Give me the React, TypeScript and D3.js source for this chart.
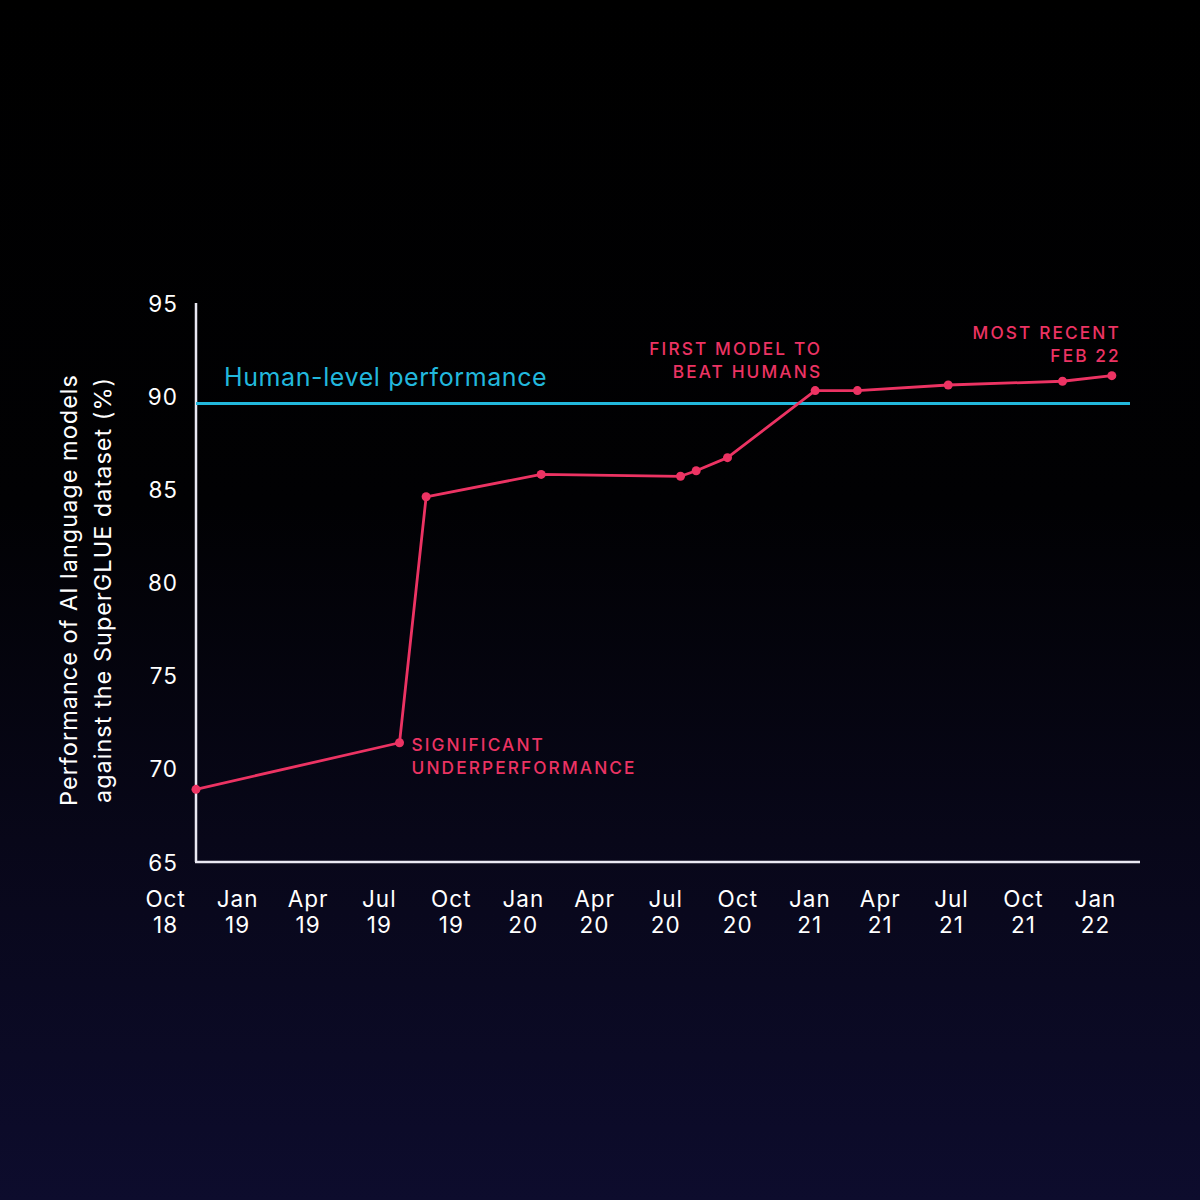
import React, { useEffect, useRef } from 'react';
import * as d3 from 'd3';

// SuperGLUE leaderboard: best score over time
const dates = [
  '2018-11-05', '2019-07-23', '2019-08-26', '2020-01-20', '2020-07-16', '2020-08-05',
  '2020-09-14', '2021-01-04', '2021-02-27', '2021-06-23', '2021-11-16', '2022-01-18'
];
const scores = [68.9, 71.4, 84.6, 85.8, 85.7, 86.0, 86.7, 90.3, 90.3, 90.6, 90.8, 91.1];
const humanLevel = 89.6;

const yTicks = [65, 70, 75, 80, 85, 90, 95];
const xTickDates = [
  '2018-10-01', '2019-01-01', '2019-04-01', '2019-07-01', '2019-10-01', '2020-01-01',
  '2020-04-01', '2020-07-01', '2020-10-01', '2021-01-01', '2021-04-01', '2021-07-01',
  '2021-10-01', '2022-01-01'
];

const PINK = '#ec3363';
const CYAN = '#22b8dd';
const AXIS = '#e9e8f2';
const FONT = 'Inter, "Noto Sans", sans-serif';

const App: React.FC = () => {
  const svgRef = useRef<SVGSVGElement>(null);

  useEffect(() => {
    if (!svgRef.current) return;
    const svg = d3.select(svgRef.current);
    svg.selectAll('*').remove();

    const parse = d3.timeParse('%Y-%m-%d');
    const data = dates.map((d, i) => ({ date: parse(d) as Date, value: scores[i] }));

    // background
    const defs = svg.append('defs');
    const grad = defs.append('linearGradient')
      .attr('id', 'bg')
      .attr('x1', 0).attr('y1', 0).attr('x2', 0).attr('y2', 1);
    grad.append('stop').attr('offset', '0%').attr('stop-color', '#000000');
    grad.append('stop').attr('offset', '42%').attr('stop-color', '#010103');
    grad.append('stop').attr('offset', '70%').attr('stop-color', '#080719');
    grad.append('stop').attr('offset', '100%').attr('stop-color', '#0d0c2d');
    svg.append('rect').attr('width', 1200).attr('height', 1200).attr('fill', 'url(#bg)');

    const x = d3.scaleTime()
      .domain([parse('2018-11-05') as Date, parse('2022-02-23') as Date])
      .range([196, 1140]);
    const y = d3.scaleLinear().domain([65, 95]).range([862, 303]);

    // axes
    svg.append('line')
      .attr('x1', x.range()[0]).attr('x2', x.range()[0])
      .attr('y1', y(95)).attr('y2', y(65))
      .attr('stroke', AXIS).attr('stroke-width', 2.5);
    svg.append('line')
      .attr('x1', x.range()[0] - 1).attr('x2', x.range()[1])
      .attr('y1', y(65)).attr('y2', y(65))
      .attr('stroke', AXIS).attr('stroke-width', 2.5);

    // y tick labels
    svg.append('g').selectAll('text')
      .data(yTicks)
      .enter()
      .append('text')
      .attr('x', 178)
      .attr('y', d => y(d) + 8.5)
      .attr('text-anchor', 'end')
      .attr('fill', '#ffffff')
      .attr('font-family', FONT)
      .attr('font-size', 22.5)
      .attr('letter-spacing', 1)
      .text(d => d);

    // x tick labels: month on one line, year below
    const fmtMonth = d3.timeFormat('%b');
    const fmtYear = d3.timeFormat('%y');
    const tickDates = xTickDates.map(d => parse(d) as Date);
    const xg = svg.append('g')
      .attr('text-anchor', 'middle')
      .attr('fill', '#ffffff')
      .attr('font-family', FONT)
      .attr('font-size', 22.5)
      .attr('letter-spacing', 1);
    xg.selectAll('text.month')
      .data(tickDates)
      .enter()
      .append('text')
      .attr('class', 'month')
      .attr('x', d => x(d) - 3)
      .attr('y', 907)
      .text(d => fmtMonth(d));
    xg.selectAll('text.year')
      .data(tickDates)
      .enter()
      .append('text')
      .attr('class', 'year')
      .attr('x', d => x(d) - 3)
      .attr('y', 933)
      .text(d => fmtYear(d));

    // y axis title
    const yt = svg.append('text')
      .attr('transform', 'translate(77,590) rotate(-90)')
      .attr('text-anchor', 'middle')
      .attr('fill', '#ffffff')
      .attr('font-family', FONT)
      .attr('font-size', 23.5)
      .attr('letter-spacing', 1.0);
    yt.append('tspan').attr('x', 0).attr('y', 0).text('Performance of AI language models');
    yt.append('tspan').attr('x', 0).attr('y', 34).text('against the SuperGLUE dataset (%)');

    // human level line
    svg.append('line')
      .attr('x1', x.range()[0]).attr('x2', 1130)
      .attr('y1', y(humanLevel)).attr('y2', y(humanLevel))
      .attr('stroke', CYAN).attr('stroke-width', 3);
    svg.append('text')
      .attr('x', 224)
      .attr('y', y(humanLevel) - 18)
      .attr('fill', CYAN)
      .attr('font-family', FONT)
      .attr('font-size', 25)
      .attr('letter-spacing', 0.6)
      .text('Human-level performance');

    // score line
    const line = d3.line<{ date: Date; value: number }>()
      .x(d => x(d.date))
      .y(d => y(d.value));
    svg.append('path')
      .datum(data)
      .attr('d', line)
      .attr('fill', 'none')
      .attr('stroke', PINK)
      .attr('stroke-width', 2.8)
      .attr('stroke-linejoin', 'round');
    svg.append('g').selectAll('circle')
      .data(data)
      .enter()
      .append('circle')
      .attr('cx', d => x(d.date))
      .attr('cy', d => y(d.value))
      .attr('r', 4.5)
      .attr('fill', PINK);

    // annotations
    const note = (px: number, py: number, anchor: string, lines: string[]) => {
      const t = svg.append('text')
        .attr('text-anchor', anchor)
        .attr('fill', PINK)
        .attr('font-family', FONT)
        .attr('font-size', 17.3)
        .attr('font-weight', 500)
        .attr('letter-spacing', 2.1);
      lines.forEach((l, i) => {
        t.append('tspan').attr('x', px).attr('y', py + i * 23.5).text(l);
      });
    };
    const pUnder = data[1];
    note(x(pUnder.date) + 12, y(pUnder.value) + 8, 'start', ['SIGNIFICANT', 'UNDERPERFORMANCE']);
    const pFirst = data[7];
    note(x(pFirst.date) + 7, y(pFirst.value) - 36, 'end', ['FIRST MODEL TO', 'BEAT HUMANS']);
    const pLast = data[data.length - 1];
    note(x(pLast.date) + 9, y(pLast.value) - 37, 'end', ['MOST RECENT', 'FEB 22']);
  }, []);

  return (
    <div style={{ position: 'absolute', left: 0, top: 0 }}>
      <svg ref={svgRef} width={1200} height={1200} style={{ display: 'block' }}></svg>
    </div>
  );
};

export default App;
